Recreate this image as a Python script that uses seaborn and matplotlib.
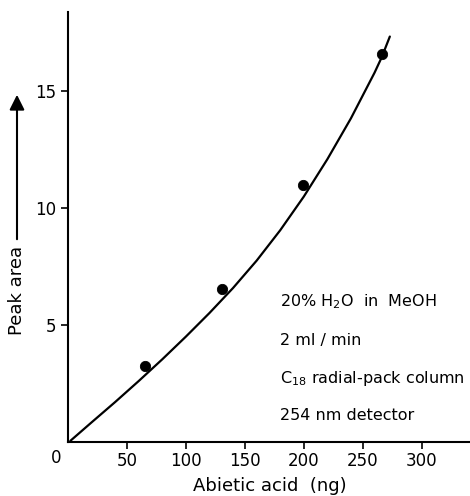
import matplotlib
matplotlib.use('Agg')
import matplotlib.pyplot as plt
import seaborn as sns
import pandas as pd

# Measured points (abietic acid in ng vs peak area)
amount_ng = [65, 131, 199, 266]
peak_area = [3.25, 6.55, 11.0, 16.6]

# Calibration curve
curve_ng = [2, 20, 40, 60, 80, 100, 120, 140, 160, 180, 200, 220, 240, 260, 266, 273]
curve_area = [0.05, 0.84, 1.71, 2.61, 3.54, 4.51, 5.52, 6.59, 7.76, 9.06, 10.5, 12.1, 13.85, 15.8, 16.45, 17.35]

x_ticks = [50, 100, 150, 200, 250, 300]
y_ticks = [5, 10, 15]

notes = ['20% H$_2$O  in  MeOH', '2 ml / min', 'C$_{18}$ radial-pack column', '254 nm detector']

sns.set_style('ticks')
plt.rcParams['font.family'] = ['DejaVu Sans']
plt.rcParams['mathtext.fontset'] = 'dejavusans'
plt.rcParams['text.color'] = 'black'

fig = plt.figure(figsize=(4.7, 4.96), dpi=100)
ax = fig.add_axes([68 / 470, 1 - 442 / 496, 1 - 68 / 470, (442 - 12) / 496])

points = pd.DataFrame({'ng': amount_ng, 'area': peak_area})
curve = pd.DataFrame({'ng': curve_ng, 'area': curve_area})

sns.lineplot(data=curve, x='ng', y='area', color='black', linewidth=1.6, ax=ax, sort=False)
sns.scatterplot(data=points, x='ng', y='area', color='black', s=55, edgecolor='black', ax=ax, zorder=3)

ax.set_xlim(0, 341)
ax.set_ylim(0, 18.4)
ax.set_xticks(x_ticks)
ax.set_yticks(y_ticks)
ax.tick_params(axis='both', labelsize=12, length=5, width=1.2, color='black', labelcolor='black')
ax.tick_params(axis='x', pad=2)
for side in ['top', 'right']:
    ax.spines[side].set_visible(False)
for side in ['left', 'bottom']:
    ax.spines[side].set_linewidth(1.5)
    ax.spines[side].set_color('black')

ax.set_xlabel('')
ax.set_ylabel('')
fig.text(270 / 470, 1 - 486 / 496, 'Abietic acid  (ng)', fontsize=13, ha='center', va='center')
fig.text(56 / 470, 1 - 458 / 496, '0', fontsize=12, ha='center', va='center')

# y label with upward arrow
fig.text(17 / 470, 1 - 290 / 496, 'Peak area', rotation=90, fontsize=13, ha='center', va='center')
fig.add_artist(matplotlib.patches.FancyArrowPatch((17 / 470, 1 - 242 / 496), (17 / 470, 1 - 92 / 496),
                                                  transform=fig.transFigure, arrowstyle='-|>,head_length=6,head_width=3',
                                                  color='black', linewidth=1.5, mutation_scale=1.5))

for i, note in enumerate(notes):
    fig.text(280 / 470, 1 - (302 + i * 38) / 496, note, fontsize=11.5, ha='left', va='center')

fig.savefig('out.png', dpi=100)
